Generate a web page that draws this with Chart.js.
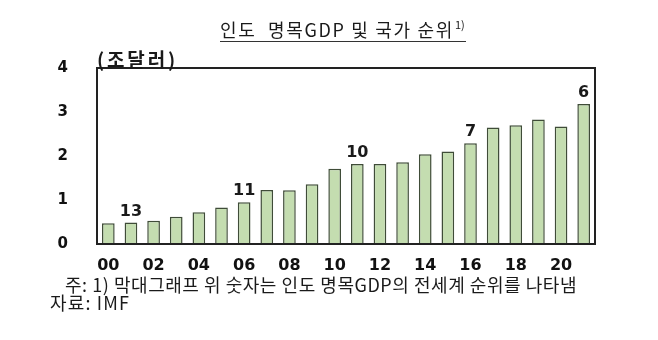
<!DOCTYPE html>
<html>
<head>
<meta charset="utf-8">
<script src="https://cdn.jsdelivr.net/npm/chart.js@4"></script>
<style>
  html, body { margin: 0; padding: 0; background: #fff; }
  #wrap { width: 658px; height: 340px; position: relative; }
</style>
</head>
<body>
<div id="wrap"><canvas id="chart" width="658" height="340"></canvas></div>
<script>
// 인도 명목GDP (조달러), 2000~2021
const years = ["00","01","02","03","04","05","06","07","08","09","10",
               "11","12","13","14","15","16","17","18","19","20","21"];
const gdp = [0.47, 0.49, 0.53, 0.62, 0.72, 0.83, 0.95, 1.23, 1.22, 1.36, 1.71,
             1.82, 1.82, 1.86, 2.04, 2.10, 2.29, 2.65, 2.70, 2.83, 2.67, 3.18];
// 세계 순위 (표시 연도만)
const rankYears = ["01","06","11","16","21"];
const ranks = [13, 11, 10, 7, 6];
const yTicks = [0, 1, 2, 3, 4];

const KR = '"Noto Sans CJK KR", "Noto Sans", sans-serif';
const BOLD = '"DejaVu Sans", sans-serif';

// 자간을 조금 늘려서 문장을 정해진 폭에 맞춘다
function fitText(ctx, str, x, y, width){
    ctx.letterSpacing = "0px";
    let w = ctx.measureText(str).width;
    let n = Array.from(str).length;
    if(w < width) ctx.letterSpacing = ((width - w) / n) + "px";
    ctx.fillText(str, x, y);
    ctx.letterSpacing = "0px";
}

const textPlugin = {
    id: "texts",
    afterDraw(c){
        const ctx = c.ctx;
        const a = c.chartArea;
        ctx.save();

        // 그림 테두리
        ctx.strokeStyle = "#222";
        ctx.lineWidth = 2;
        ctx.strokeRect(a.left, a.top, a.right - a.left, a.bottom - a.top);

        // 제목 + 밑줄
        ctx.fillStyle = "#1a1a1a";
        ctx.textAlign = "left";
        ctx.textBaseline = "alphabetic";
        ctx.font = "18px " + KR;
        fitText(ctx, "인도  명목GDP 및 국가 순위", 220, 37, 234);
        ctx.font = "11px " + KR;
        ctx.fillText("1)", 455, 29);
        ctx.strokeStyle = "#333";
        ctx.lineWidth = 1.2;
        ctx.beginPath();
        ctx.moveTo(220, 41.5);
        ctx.lineTo(466, 41.5);
        ctx.stroke();

        // 단위
        ctx.font = "bold 19px " + KR;
        ctx.textBaseline = "middle";
        fitText(ctx, "(조달러)", 97, 60, 81);

        // 막대 위 순위
        const meta = c.getDatasetMeta(0);
        ctx.font = "bold 16px " + BOLD;
        ctx.textAlign = "center";
        ctx.textBaseline = "bottom";
        rankYears.forEach((y, i)=>{
            let bar = meta.data[years.indexOf(y)];
            ctx.fillText(String(ranks[i]), bar.x, bar.y - 3);
        });

        // 주석
        ctx.font = "18px " + KR;
        ctx.textAlign = "left";
        ctx.textBaseline = "middle";
        fitText(ctx, "주: 1) 막대그래프 위 숫자는 인도 명목GDP의 전세계 순위를 나타냄", 65, 285, 512);
        fitText(ctx, "자료: IMF", 50, 303, 80);

        ctx.restore();
    }
};

new Chart(document.getElementById("chart"), {
    type: "bar",
    data: {
        labels: years,
        datasets: [{
            data: gdp,
            backgroundColor: "#c4ddb0",
            borderColor: "#3f4c38",
            borderWidth: 1.5,
            barPercentage: 0.56,
            categoryPercentage: 1
        }]
    },
    options: {
        responsive: false,
        animation: false,
        layout: { padding: { top: 68, right: 63, left: 0, bottom: 0 } },
        plugins: {
            legend: { display: false },
            tooltip: { enabled: false }
        },
        scales: {
            x: {
                grid: { display: false, drawTicks: false },
                border: { display: false },
                afterFit(s){ s.height = 96; },
                ticks: {
                    autoSkip: false,
                    maxRotation: 0,
                    padding: 12,
                    color: "#111",
                    font: { family: BOLD, size: 16, weight: "bold" },
                    callback(v, i){ return i % 2 === 0 ? years[i] : ""; }
                }
            },
            y: {
                min: 0,
                max: 4,
                grid: { display: false, drawTicks: false },
                border: { display: false },
                afterFit(s){ s.width = 97; },
                afterBuildTicks(s){ s.ticks = yTicks.map(v=>({ value: v })); },
                ticks: {
                    padding: 29,
                    color: "#111",
                    font: { family: BOLD, size: 15, weight: "bold" }
                }
            }
        }
    },
    plugins: [textPlugin]
});
</script>
</body>
</html>
